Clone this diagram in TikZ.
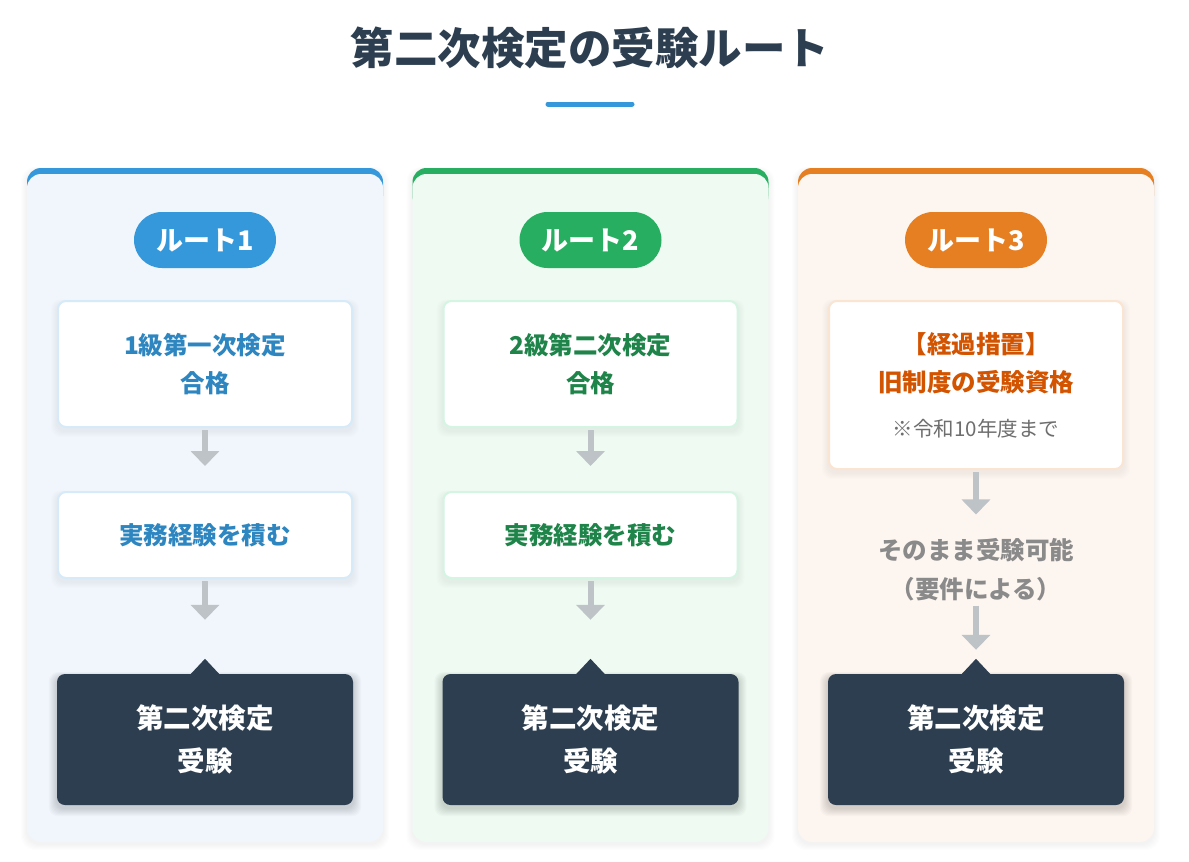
\documentclass[tikz,border=0pt]{standalone}
\usepackage{fontspec}
\setmainfont{Noto Sans CJK JP}
\usetikzlibrary{arrows.meta}
\pgfdeclarelayer{bg}
\pgfdeclarelayer{sh}
\pgfsetlayers{bg,sh,main}
\definecolor{dark}{HTML}{2C3E50}
\definecolor{cblue}{HTML}{3498DB}
\definecolor{cgreen}{HTML}{27AE60}
\definecolor{corange}{HTML}{E67E22}
\definecolor{tblue}{HTML}{2E86C1}
\definecolor{tgreen}{HTML}{1E8449}
\definecolor{torange}{HTML}{D35400}
\definecolor{bgblue}{HTML}{F0F6FC}
\definecolor{bggreen}{HTML}{EFFAF3}
\definecolor{bgorange}{HTML}{FDF5F0}
\definecolor{lblue}{HTML}{D6EAF8}
\definecolor{lgreen}{HTML}{D5F5E3}
\definecolor{lorange}{HTML}{FAE5D3}
\definecolor{arrowgray}{HTML}{BDC3C7}
\definecolor{notegray}{HTML}{6E6E6E}
\definecolor{midgray}{HTML}{8A8A8A}
\newcommand\softshadowof[3]{% node, opacity, steps
  \begin{pgfonlayer}{sh}
  \foreach \s in {1,...,#3}{
    \fill[black, opacity=#2, rounded corners=9pt]
      ([shift={(-\s,-\s*0.6+3)}]#1.north west) rectangle ([shift={(\s,\s+3)}]#1.south east);
  }
  \end{pgfonlayer}}
\tikzset{
  pill/.style={fill=#1, rounded corners=28pt, minimum width=142pt, minimum height=56pt, inner sep=0pt, text=white, font=\bfseries\fontsize{27}{30}\selectfont},
  stepbox/.style={draw=#1, line width=2pt, fill=white, rounded corners=8pt, minimum width=294pt, inner sep=0pt, align=center},
  steptext/.style={text=#1, font=\bfseries\fontsize{24.5}{38}\selectfont},
  darkbox/.style={fill=dark, rounded corners=8pt, minimum width=296pt, minimum height=131pt, inner sep=0pt, align=center, text=white, font=\bfseries\fontsize{27.5}{43}\selectfont},
  arr/.style={draw=arrowgray, line width=6pt, -{Triangle[width=28pt,length=15pt]}},
}
\begin{document}
\begin{tikzpicture}[x=1pt,y=-1pt]
\useasboundingbox (0,0) rectangle (1189,862);

\begin{pgfonlayer}{bg}
\fill[white] (0,0) rectangle (1189,862);
\foreach \cx/\ac/\bg in {205/cblue/bgblue, 590.5/cgreen/bggreen, 976/corange/bgorange}{
  \foreach \s in {1,...,6}{
    \fill[black, opacity=0.006, rounded corners=14pt] (\cx-178-\s,168-\s*0.5+2) rectangle (\cx+178+\s,842+\s+2);
  }
  \fill[\ac, rounded corners=14pt] (\cx-178,168) rectangle (\cx+178,210);
  \fill[\bg, rounded corners=14pt] (\cx-178,174) rectangle (\cx+178,842);
}
\end{pgfonlayer}

% title
\node[font=\bfseries\fontsize{43.5}{46}\selectfont, text=dark] (title) at (590,48) {第二次検定の受験ルート};
\draw[cblue, line width=5pt, line cap=round] (548,104) -- (632,104);

% pills
\node[pill=cblue] (p1) at (205,240) {ルート1};
\node[pill=cgreen] (p2) at (590.5,240) {ルート2};
\node[pill=corange] (p3) at (976,240) {ルート3};

% route 1
\node[stepbox=lblue, minimum height=126pt, steptext=tblue] (b11) at (205,364) {1級第一次検定\\合格};
\node[stepbox=lblue, minimum height=86pt, steptext=tblue] (b12) at (205,535) {実務経験を積む};
\node[darkbox] (d1) at (205,739.5) {第二次検定\\受験};
\fill[dark] (d1.north) ++(-15,1) -- ++(15,-16) -- ++(15,16) -- cycle;

% route 2
\node[stepbox=lgreen, minimum height=126pt, steptext=tgreen] (b21) at (590.5,364) {2級第二次検定\\合格};
\node[stepbox=lgreen, minimum height=86pt, steptext=tgreen] (b22) at (590.5,535) {実務経験を積む};
\node[darkbox] (d2) at (590.5,739.5) {第二次検定\\受験};
\fill[dark] (d2.north) ++(-15,1) -- ++(15,-16) -- ++(15,16) -- cycle;

% route 3
\node[stepbox=lorange, minimum height=168pt, steptext=torange] (b31) at (976,385) {【経過措置】\\旧制度の受験資格\\[7pt]{\mdseries\fontsize{20.5}{22}\selectfont\color{notegray}※令和10年度まで}};
\node[align=center, text=midgray, inner sep=0pt, font=\bfseries\fontsize{24.5}{39}\selectfont] (t32) at (976,570) {そのまま受験可能\\（要件による）};
\node[darkbox] (d3) at (976,739.5) {第二次検定\\受験};
\fill[dark] (d3.north) ++(-15,1) -- ++(15,-16) -- ++(15,16) -- cycle;

% shadows
\softshadowof{b11}{0.008}{6}
\softshadowof{b12}{0.008}{6}
\softshadowof{b21}{0.008}{6}
\softshadowof{b22}{0.008}{6}
\softshadowof{b31}{0.008}{6}
\softshadowof{d1}{0.018}{8}
\softshadowof{d2}{0.018}{8}
\softshadowof{d3}{0.018}{8}

% arrows
\draw[arr, shorten <=2pt, shorten >=25pt] (b11.south) -- (b12.north);
\draw[arr, shorten <=2pt, shorten >=54pt] (b12.south) -- (d1.north);
\draw[arr, shorten <=2pt, shorten >=25pt] (b21.south) -- (b22.north);
\draw[arr, shorten <=2pt, shorten >=54pt] (b22.south) -- (d2.north);
\draw[arr, shorten <=2pt, shorten >=24pt] (b31.south) -- (t32.north);
\draw[arr, shorten <=4pt, shorten >=24pt] (t32.south) -- (d3.north);
\end{tikzpicture}
\end{document}
